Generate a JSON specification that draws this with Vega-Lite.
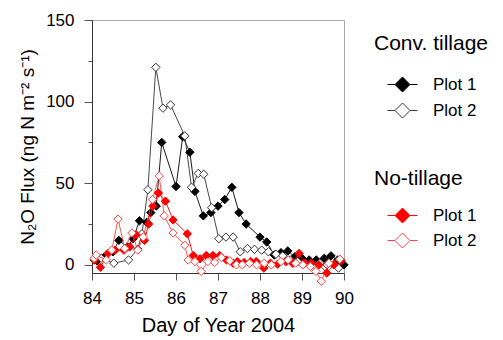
{
  "$schema": "https://vega.github.io/schema/vega-lite/v6.json",
  "width": 252,
  "height": 253,
  "autosize": "none",
  "padding": {"left": 92, "top": 20, "right": 159, "bottom": 67},
  "background": "white",
  "config": {
    "font": "Liberation Sans",
    "view": {"stroke": "#a8a8a8", "strokeWidth": 1},
    "axis": {"labelFont": "Liberation Sans", "titleFont": "Liberation Sans", "labelColor": "#000", "titleColor": "#000", "titleFontWeight": "normal", "domainColor": "#333", "tickColor": "#555", "grid": false},
    "legend": {"labelFont": "Liberation Sans", "titleFont": "Liberation Sans", "titleFontWeight": "normal", "titleColor": "#000", "labelColor": "#000"}
  },
  "datasets": {
    "flux": [
      {"g": "ct", "s": "Plot 1", "day": 84.12, "flux": 2.5},
      {"g": "ct", "s": "Plot 1", "day": 84.29, "flux": 4.7},
      {"g": "ct", "s": "Plot 1", "day": 84.5, "flux": 8},
      {"g": "ct", "s": "Plot 1", "day": 84.64, "flux": 15},
      {"g": "ct", "s": "Plot 1", "day": 84.84, "flux": 11},
      {"g": "ct", "s": "Plot 1", "day": 84.98, "flux": 16},
      {"g": "ct", "s": "Plot 1", "day": 85.13, "flux": 27},
      {"g": "ct", "s": "Plot 1", "day": 85.3, "flux": 26},
      {"g": "ct", "s": "Plot 1", "day": 85.4, "flux": 32},
      {"g": "ct", "s": "Plot 1", "day": 85.53, "flux": 36},
      {"g": "ct", "s": "Plot 1", "day": 85.66, "flux": 75},
      {"g": "ct", "s": "Plot 1", "day": 86.0, "flux": 48},
      {"g": "ct", "s": "Plot 1", "day": 86.16, "flux": 78.5},
      {"g": "ct", "s": "Plot 1", "day": 86.33, "flux": 69},
      {"g": "ct", "s": "Plot 1", "day": 86.45, "flux": 45},
      {"g": "ct", "s": "Plot 1", "day": 86.65, "flux": 30},
      {"g": "ct", "s": "Plot 1", "day": 86.83, "flux": 32},
      {"g": "ct", "s": "Plot 1", "day": 87.0, "flux": 36},
      {"g": "ct", "s": "Plot 1", "day": 87.16, "flux": 40},
      {"g": "ct", "s": "Plot 1", "day": 87.33, "flux": 47.5},
      {"g": "ct", "s": "Plot 1", "day": 87.5, "flux": 32},
      {"g": "ct", "s": "Plot 1", "day": 87.67, "flux": 25},
      {"g": "ct", "s": "Plot 1", "day": 88.0, "flux": 17},
      {"g": "ct", "s": "Plot 1", "day": 88.16, "flux": 14},
      {"g": "ct", "s": "Plot 1", "day": 88.34, "flux": 6},
      {"g": "ct", "s": "Plot 1", "day": 88.5, "flux": 7.5},
      {"g": "ct", "s": "Plot 1", "day": 88.66, "flux": 8.5},
      {"g": "ct", "s": "Plot 1", "day": 88.83, "flux": 5},
      {"g": "ct", "s": "Plot 1", "day": 89.0, "flux": 4},
      {"g": "ct", "s": "Plot 1", "day": 89.17, "flux": 3},
      {"g": "ct", "s": "Plot 1", "day": 89.34, "flux": 3},
      {"g": "ct", "s": "Plot 1", "day": 89.53, "flux": 4},
      {"g": "ct", "s": "Plot 1", "day": 89.69, "flux": 5.5},
      {"g": "ct", "s": "Plot 1", "day": 89.85, "flux": 3},
      {"g": "ct", "s": "Plot 1", "day": 90.0, "flux": 0},
      {"g": "ct", "s": "Plot 2", "day": 84.05, "flux": 3},
      {"g": "ct", "s": "Plot 2", "day": 84.22, "flux": 4},
      {"g": "ct", "s": "Plot 2", "day": 84.52, "flux": 1},
      {"g": "ct", "s": "Plot 2", "day": 84.87, "flux": 3},
      {"g": "ct", "s": "Plot 2", "day": 85.09, "flux": 9.6},
      {"g": "ct", "s": "Plot 2", "day": 85.19, "flux": 19},
      {"g": "ct", "s": "Plot 2", "day": 85.33, "flux": 46},
      {"g": "ct", "s": "Plot 2", "day": 85.52, "flux": 121},
      {"g": "ct", "s": "Plot 2", "day": 85.69, "flux": 96},
      {"g": "ct", "s": "Plot 2", "day": 85.87, "flux": 98},
      {"g": "ct", "s": "Plot 2", "day": 86.21, "flux": 79},
      {"g": "ct", "s": "Plot 2", "day": 86.37, "flux": 47.5},
      {"g": "ct", "s": "Plot 2", "day": 86.53, "flux": 56},
      {"g": "ct", "s": "Plot 2", "day": 86.66, "flux": 55.5},
      {"g": "ct", "s": "Plot 2", "day": 86.85, "flux": 35},
      {"g": "ct", "s": "Plot 2", "day": 87.02, "flux": 16},
      {"g": "ct", "s": "Plot 2", "day": 87.19, "flux": 17},
      {"g": "ct", "s": "Plot 2", "day": 87.36, "flux": 17},
      {"g": "ct", "s": "Plot 2", "day": 87.53, "flux": 8},
      {"g": "ct", "s": "Plot 2", "day": 87.7, "flux": 10},
      {"g": "ct", "s": "Plot 2", "day": 87.87, "flux": 9.5},
      {"g": "ct", "s": "Plot 2", "day": 88.04, "flux": 9},
      {"g": "ct", "s": "Plot 2", "day": 88.2, "flux": 8},
      {"g": "ct", "s": "Plot 2", "day": 88.38, "flux": 6.5},
      {"g": "ct", "s": "Plot 2", "day": 88.54, "flux": 5.5},
      {"g": "ct", "s": "Plot 2", "day": 88.72, "flux": 3},
      {"g": "ct", "s": "Plot 2", "day": 88.9, "flux": 2},
      {"g": "ct", "s": "Plot 2", "day": 89.07, "flux": 1},
      {"g": "ct", "s": "Plot 2", "day": 89.25, "flux": -1},
      {"g": "ct", "s": "Plot 2", "day": 89.42, "flux": 1},
      {"g": "ct", "s": "Plot 2", "day": 89.6, "flux": 0},
      {"g": "ct", "s": "Plot 2", "day": 89.87, "flux": -2},
      {"g": "nt", "s": "Plot 1", "day": 84.06, "flux": 3},
      {"g": "nt", "s": "Plot 1", "day": 84.2, "flux": -1.5},
      {"g": "nt", "s": "Plot 1", "day": 84.38, "flux": 7},
      {"g": "nt", "s": "Plot 1", "day": 84.55, "flux": 9},
      {"g": "nt", "s": "Plot 1", "day": 84.76, "flux": 9},
      {"g": "nt", "s": "Plot 1", "day": 84.9, "flux": 11},
      {"g": "nt", "s": "Plot 1", "day": 85.05, "flux": 18.4},
      {"g": "nt", "s": "Plot 1", "day": 85.25, "flux": 15},
      {"g": "nt", "s": "Plot 1", "day": 85.35, "flux": 25},
      {"g": "nt", "s": "Plot 1", "day": 85.45, "flux": 36},
      {"g": "nt", "s": "Plot 1", "day": 85.58, "flux": 44},
      {"g": "nt", "s": "Plot 1", "day": 85.75, "flux": 39},
      {"g": "nt", "s": "Plot 1", "day": 85.93, "flux": 27.5},
      {"g": "nt", "s": "Plot 1", "day": 86.27, "flux": 19},
      {"g": "nt", "s": "Plot 1", "day": 86.41, "flux": 5.7},
      {"g": "nt", "s": "Plot 1", "day": 86.57, "flux": 3.7},
      {"g": "nt", "s": "Plot 1", "day": 86.72, "flux": 5.7},
      {"g": "nt", "s": "Plot 1", "day": 86.88, "flux": 5.7},
      {"g": "nt", "s": "Plot 1", "day": 87.04, "flux": 5.7},
      {"g": "nt", "s": "Plot 1", "day": 87.2, "flux": 3},
      {"g": "nt", "s": "Plot 1", "day": 87.36, "flux": 1},
      {"g": "nt", "s": "Plot 1", "day": 87.46, "flux": 2},
      {"g": "nt", "s": "Plot 1", "day": 87.62, "flux": 1.4},
      {"g": "nt", "s": "Plot 1", "day": 87.78, "flux": 2},
      {"g": "nt", "s": "Plot 1", "day": 87.91, "flux": 2},
      {"g": "nt", "s": "Plot 1", "day": 88.09, "flux": -2},
      {"g": "nt", "s": "Plot 1", "day": 88.25, "flux": 1},
      {"g": "nt", "s": "Plot 1", "day": 88.42, "flux": 0.4},
      {"g": "nt", "s": "Plot 1", "day": 88.62, "flux": 2},
      {"g": "nt", "s": "Plot 1", "day": 88.78, "flux": 1},
      {"g": "nt", "s": "Plot 1", "day": 88.93, "flux": 7},
      {"g": "nt", "s": "Plot 1", "day": 89.06, "flux": 1},
      {"g": "nt", "s": "Plot 1", "day": 89.22, "flux": 1},
      {"g": "nt", "s": "Plot 1", "day": 89.4, "flux": 0},
      {"g": "nt", "s": "Plot 1", "day": 89.59, "flux": -5},
      {"g": "nt", "s": "Plot 1", "day": 89.76, "flux": 0},
      {"g": "nt", "s": "Plot 1", "day": 89.93, "flux": 2.6},
      {"g": "nt", "s": "Plot 2", "day": 84.05, "flux": 4},
      {"g": "nt", "s": "Plot 2", "day": 84.1, "flux": 6},
      {"g": "nt", "s": "Plot 2", "day": 84.34, "flux": 3},
      {"g": "nt", "s": "Plot 2", "day": 84.47, "flux": 9},
      {"g": "nt", "s": "Plot 2", "day": 84.62, "flux": 28},
      {"g": "nt", "s": "Plot 2", "day": 84.78, "flux": 10},
      {"g": "nt", "s": "Plot 2", "day": 84.95, "flux": 19.5},
      {"g": "nt", "s": "Plot 2", "day": 85.09, "flux": 9},
      {"g": "nt", "s": "Plot 2", "day": 85.22, "flux": 17},
      {"g": "nt", "s": "Plot 2", "day": 85.44, "flux": 40},
      {"g": "nt", "s": "Plot 2", "day": 85.6, "flux": 54.5},
      {"g": "nt", "s": "Plot 2", "day": 85.72, "flux": 30},
      {"g": "nt", "s": "Plot 2", "day": 85.93, "flux": 19.5},
      {"g": "nt", "s": "Plot 2", "day": 86.21, "flux": 12},
      {"g": "nt", "s": "Plot 2", "day": 86.29, "flux": 3},
      {"g": "nt", "s": "Plot 2", "day": 86.45, "flux": 2},
      {"g": "nt", "s": "Plot 2", "day": 86.6, "flux": -4},
      {"g": "nt", "s": "Plot 2", "day": 86.76, "flux": 2},
      {"g": "nt", "s": "Plot 2", "day": 86.92, "flux": 1.5},
      {"g": "nt", "s": "Plot 2", "day": 87.08, "flux": 4.5},
      {"g": "nt", "s": "Plot 2", "day": 87.28, "flux": 2.5},
      {"g": "nt", "s": "Plot 2", "day": 87.44, "flux": 0},
      {"g": "nt", "s": "Plot 2", "day": 87.58, "flux": 0},
      {"g": "nt", "s": "Plot 2", "day": 87.75, "flux": 1},
      {"g": "nt", "s": "Plot 2", "day": 87.92, "flux": 0},
      {"g": "nt", "s": "Plot 2", "day": 88.1, "flux": 1},
      {"g": "nt", "s": "Plot 2", "day": 88.27, "flux": 0},
      {"g": "nt", "s": "Plot 2", "day": 88.5, "flux": 2},
      {"g": "nt", "s": "Plot 2", "day": 88.67, "flux": 3},
      {"g": "nt", "s": "Plot 2", "day": 88.85, "flux": 1},
      {"g": "nt", "s": "Plot 2", "day": 89.02, "flux": 0},
      {"g": "nt", "s": "Plot 2", "day": 89.2, "flux": -1},
      {"g": "nt", "s": "Plot 2", "day": 89.33, "flux": -4},
      {"g": "nt", "s": "Plot 2", "day": 89.46, "flux": -10},
      {"g": "nt", "s": "Plot 2", "day": 89.64, "flux": 1},
      {"g": "nt", "s": "Plot 2", "day": 89.9, "flux": 3.5}
    ]
  },
  "data": {"name": "flux"},
  "encoding": {
    "x": {"field": "day", "type": "quantitative", "scale": {"domain": [84, 90], "nice": false, "zero": false},
      "axis": {"title": "Day of Year 2004", "values": [84, 85, 86, 87, 88, 89, 90], "format": "d", "labelFontSize": 17, "titleFontSize": 20, "tickSize": 7, "labelPadding": 10, "titlePadding": 9, "labelFlush": false}},
    "y": {"field": "flux", "type": "quantitative", "scale": {"domain": [-5, 150], "nice": false, "zero": false},
      "axis": {"title": "N₂O Flux (ng N m⁻² s⁻¹)", "values": [0, 25, 50, 75, 100, 125, 150], "labelExpr": "datum.value % 50 === 0 ? datum.label : ''", "tickSize": {"condition": {"test": "datum.value % 50 === 0", "value": 8}, "value": 4}, "labelFontSize": 17, "titleFontSize": 19, "labelPadding": 10, "titlePadding": 8}}
  },
  "layer": [
    {
      "transform": [{"filter": "datum.g === 'ct'"}],
      "encoding": {
        "stroke": {"field": "s", "type": "nominal", "scale": {"domain": ["Plot 1", "Plot 2"], "range": ["#000000", "#333333"]},
          "legend": {"orient": "none", "legendX": 282, "legendY": 13, "title": "Conv. tillage", "titleFontSize": 21, "labelFontSize": 17, "symbolType": "M-1,0H-0.5M0.5,0H1M0,-0.5L0.5,0L0,0.5L-0.5,0Z", "symbolSize": 900, "symbolStrokeWidth": 1, "symbolOffset": 13, "labelOffset": 15, "rowPadding": 1, "titlePadding": 15, "padding": 0}}
      },
      "layer": [
        {"mark": {"type": "line", "strokeWidth": 0.9}},
        {"mark": {"type": "point", "shape": "diamond", "size": 70, "strokeWidth": 1, "opacity": 1, "filled": true},
          "encoding": {
            "fill": {"field": "s", "type": "nominal", "scale": {"domain": ["Plot 1", "Plot 2"], "range": ["#000000", "#ffffff"]},
              "legend": {"orient": "none", "legendX": 282, "legendY": 13, "title": "Conv. tillage", "titleFontSize": 21, "labelFontSize": 17, "symbolType": "M-1,0H-0.5M0.5,0H1M0,-0.5L0.5,0L0,0.5L-0.5,0Z", "symbolSize": 900, "symbolStrokeWidth": 1, "symbolOffset": 13, "labelOffset": 15, "rowPadding": 1, "titlePadding": 15, "padding": 0}}
          }}
      ]
    },
    {
      "transform": [{"filter": "datum.g === 'nt'"}],
      "encoding": {
        "stroke": {"field": "s", "type": "nominal", "scale": {"domain": ["Plot 1", "Plot 2"], "range": ["#ff0000", "#ff4040"]},
          "legend": {"orient": "none", "legendX": 282, "legendY": 148, "title": "No-tillage", "titleFontSize": 21, "labelFontSize": 17, "symbolType": "M-1,0H-0.5M0.5,0H1M0,-0.5L0.5,0L0,0.5L-0.5,0Z", "symbolSize": 900, "symbolStrokeWidth": 1, "symbolOffset": 13, "labelOffset": 15, "rowPadding": 0, "titlePadding": 11, "padding": 0}}
      },
      "layer": [
        {"mark": {"type": "line", "strokeWidth": 0.9}},
        {"mark": {"type": "point", "shape": "diamond", "size": 70, "strokeWidth": 1, "opacity": 1, "filled": true},
          "encoding": {
            "fill": {"field": "s", "type": "nominal", "scale": {"domain": ["Plot 1", "Plot 2"], "range": ["#ff0000", "#ffffff"]},
              "legend": {"orient": "none", "legendX": 282, "legendY": 148, "title": "No-tillage", "titleFontSize": 21, "labelFontSize": 17, "symbolType": "M-1,0H-0.5M0.5,0H1M0,-0.5L0.5,0L0,0.5L-0.5,0Z", "symbolSize": 900, "symbolStrokeWidth": 1, "symbolOffset": 13, "labelOffset": 15, "rowPadding": 0, "titlePadding": 11, "padding": 0}}
          }}
      ]
    }
  ],
  "resolve": {"scale": {"stroke": "independent", "fill": "independent"}, "legend": {"stroke": "independent", "fill": "independent"}}
}
